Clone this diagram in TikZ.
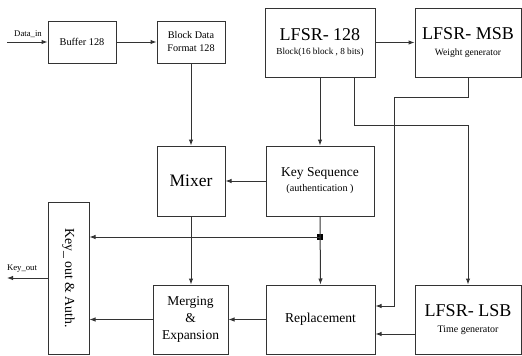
\documentclass[tikz,border=0pt]{standalone}
\usepackage{fontspec}
\setmainfont{Liberation Serif}
\usetikzlibrary{arrows.meta}
\begin{document}
\begin{tikzpicture}[x=1pt,y=-1pt,
  box/.style={draw=black!80, line width=1pt, inner sep=0pt, align=center, text=black},
  conn/.style={draw=black!80, line width=1pt},
  arr/.style={conn, -{Latex[length=6pt,width=4.5pt]}},
  lbl/.style={inner sep=0pt, text=black}]
\useasboundingbox (0,0) rectangle (522,356);

% boxes
\node[box, minimum width=68pt, minimum height=42pt, font=\fontsize{10.3}{12}\selectfont] (buf) at (82,42) {Buffer 128};
\node[box, minimum width=68pt, minimum height=42pt, font=\fontsize{10.2}{13}\selectfont] (bdf) at (191,42) {Block Data\\Format 128};
\node[box, minimum width=110pt, minimum height=69pt] (lfsr) at (320,42.5)
  {\fontsize{18}{18}\selectfont LFSR- 128\\[2pt]\fontsize{9.2}{11}\selectfont Block(16 block , 8 bits)};
\node[box, minimum width=106pt, minimum height=69pt] (msb) at (468,42.5)
  {\fontsize{18}{18}\selectfont LFSR- MSB\\[4pt]\fontsize{9.6}{11}\selectfont Weight generator};
\node[box, minimum width=68pt, minimum height=70pt, font=\fontsize{17.5}{20}\selectfont] (mixer) at (191,181) {Mixer};
\node[box, minimum width=108pt, minimum height=70pt] (keyseq) at (320,181)
  {\fontsize{13.5}{15}\selectfont Key Sequence\\[3pt]\fontsize{10.2}{12}\selectfont (authentication )};
\node[box, rotate=-90, minimum width=152pt, minimum height=41pt, font=\fontsize{13.8}{16}\selectfont] (keyout) at (68.5,278) {Key\_ out \& Auth.};
\node[box, minimum width=75pt, minimum height=69pt, font=\fontsize{13.5}{17}\selectfont] (merge) at (190.5,319.5) {Merging\\\&\\Expansion};
\node[box, minimum width=109pt, minimum height=69pt, font=\fontsize{13.6}{16}\selectfont] (repl) at (320.5,319.5) {Replacement};
\node[box, minimum width=106pt, minimum height=69pt] (lsb) at (468,319.5)
  {\fontsize{18}{18}\selectfont LFSR- LSB\\[3.5pt]\fontsize{10}{11}\selectfont Time generator};

% junction
\node[fill=black, minimum size=6pt, inner sep=0pt] (jn) at (320,237) {};

% free ends
\coordinate (din) at (7,42);
\coordinate (kout) at (7,278);
\coordinate (m1) at (394,97);

% labels
\node[lbl, font=\fontsize{8.7}{10}\selectfont] (dinl) at (28,34.5) {Data\_in};
\node[lbl, font=\fontsize{8.7}{10}\selectfont] (koutl) at (22,268.5) {Key\_out};

% connectors
\draw[arr] (din) -- (buf.west);
\draw[arr] (buf.east) -- (bdf.west);
\draw[arr] (bdf.south) -- (mixer.north);
\draw[arr] (lfsr.east) -- (msb.west);
\draw[arr] (lfsr.south) -- (keyseq.north);
\draw[arr] ([xshift=34pt]lfsr.south) -- ++(0,48) -| (lsb.north);
\draw[arr] (msb.south) |- (m1) |- ([yshift=13.5pt]repl.east);
\draw[arr] (keyseq.west) -- (mixer.east);
\draw[arr] (keyseq.south) -- (repl.north);
\draw[arr] (jn.center) -- (jn.center -| keyout.north);
\draw[arr] (mixer.south) -- (mixer.south |- merge.north);
\draw[arr] (merge.west) -- (merge.west -| keyout.north);
\draw[arr] (repl.west) -- (merge.east);
\draw[arr] ([yshift=-14.5pt]lsb.west) -- ([yshift=-14.5pt]repl.east);
\draw[arr] (keyout.south) -- (kout);
\end{tikzpicture}
\end{document}
